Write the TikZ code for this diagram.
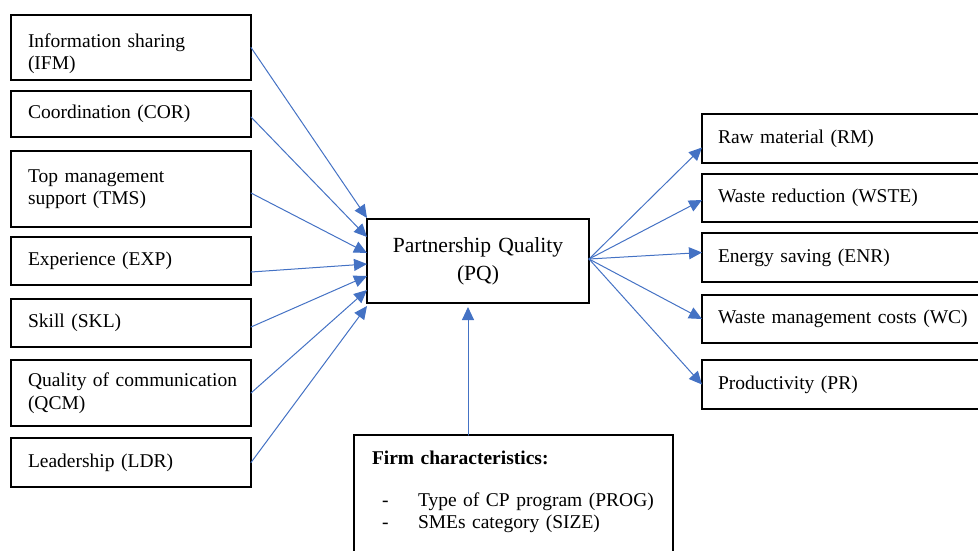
\documentclass[tikz,border=0pt]{standalone}
\usepackage{fontspec}
\setmainfont{Liberation Serif}
\usetikzlibrary{arrows.meta}
\definecolor{linkblue}{HTML}{4472C4}

\begin{document}
\begin{tikzpicture}[%
        x = 1pt,
        y = -1pt,
        line cap = round,
        font = \fontsize{19.5}{22.5}\selectfont,
        box/.style = {
            draw = black,
            line width = 1.6pt,
            anchor = north west,
            outer sep = 0pt,
            inner xsep = 17pt,
            align = left
        },
        link/.style = {
            draw = linkblue,
            line width = 1pt,
            -{Triangle[length = 13pt, width = 12pt, fill = linkblue]}
        }
    ]
        \useasboundingbox (0,0) rectangle (978,550);

        % Factors on the left.
        \node[box, text width = 206pt, minimum height = 65pt] (ifm) at (11,15) {\rule{0pt}{26pt}Information sharing\\(IFM)};
        \node[box, text width = 206pt, minimum height = 46pt] (cor) at (11,91) {Coordination (COR)};
        \node[box, text width = 206pt, minimum height = 76pt] (tms) at (11,151) {Top management\\support (TMS)\\[-14pt]};
        \node[box, text width = 206pt, minimum height = 48pt] (exp) at (11,237) {Experience (EXP)};
        \node[box, text width = 206pt, minimum height = 48pt] (skl) at (11,299) {Skill (SKL)};
        \node[box, text width = 206pt, minimum height = 66pt] (qcm) at (11,360) {\mbox{Quality of communication}\\(QCM)\\[-6pt]};
        \node[box, text width = 206pt, minimum height = 49pt] (ldr) at (11,438) {Leadership (LDR)};

        % The central construct.
        \node[box, align = center, text width = 190pt, inner xsep = 16pt, minimum height = 84pt,
            font = \fontsize{21.6}{28}\selectfont] (pq) at (367,219) {Partnership Quality\\(PQ)\\[-4pt]};

        % Outcomes on the right.
        \node[box, text width = 270pt, inner xsep = 16pt, minimum height = 49pt] (rm) at (702,114) {Raw material (RM)};
        \node[box, text width = 270pt, inner xsep = 16pt, minimum height = 48pt] (wste) at (702,174) {Waste reduction (WSTE)};
        \node[box, text width = 270pt, inner xsep = 16pt, minimum height = 49pt] (enr) at (702,233) {Energy saving (ENR)};
        \node[box, text width = 270pt, inner xsep = 16pt, minimum height = 48pt] (wc) at (702,295) {Waste management costs (WC)};
        \node[box, text width = 270pt, inner xsep = 16pt, minimum height = 49pt] (pr) at (702,360) {Productivity (PR)};

        % Firm characteristics below.
        \node[box, text width = 283pt, inner xsep = 18pt, inner ysep = 16pt] (firm) at (354,435) {%
            \textbf{Firm characteristics:}\\[19pt]
            \mbox{\hspace*{10pt}\makebox[36pt][l]{-}Type of CP program (PROG)}\\
            \mbox{\hspace*{10pt}\makebox[36pt][l]{-}SMEs category (SIZE)}\\[20pt]
            \mbox{}};

        % Arrows into PQ.
        \draw[link] (ifm.east) -- ([yshift = 1pt]pq.north west);
        \draw[link] ([yshift = -3pt]cor.east) -- ([yshift = -18pt]pq.north west);
        \draw[link] ([yshift = -4pt]tms.east) -- ([yshift = -34pt]pq.north west);
        \draw[link] ([yshift = -11pt]exp.east) -- ([yshift = -45pt]pq.north west);
        \draw[link] ([yshift = -4pt]skl.east) -- ([yshift = -57pt]pq.north west);
        \draw[link] (qcm.east) -- ([yshift = -71pt]pq.north west);
        \draw[link] (ldr.east) -- ([yshift = -87pt]pq.north west);
        \draw[link] ([xshift = 114pt]firm.north west) -- ([xshift = 101pt, yshift = -4pt]pq.south west);

        % Arrows out of PQ.
        \coordinate (hub) at ([yshift = 2pt]pq.east);
        \draw[link] (hub) -- ([yshift = -9pt]rm.west);
        \draw[link] (hub) -- ([yshift = -2pt]wste.west);
        \draw[link] (hub) -- ([yshift = 5pt]enr.west);
        \draw[link] (hub) -- (wc.west);
        \draw[link] (hub) -- (pr.west);
    \end{tikzpicture}
\end{document}
